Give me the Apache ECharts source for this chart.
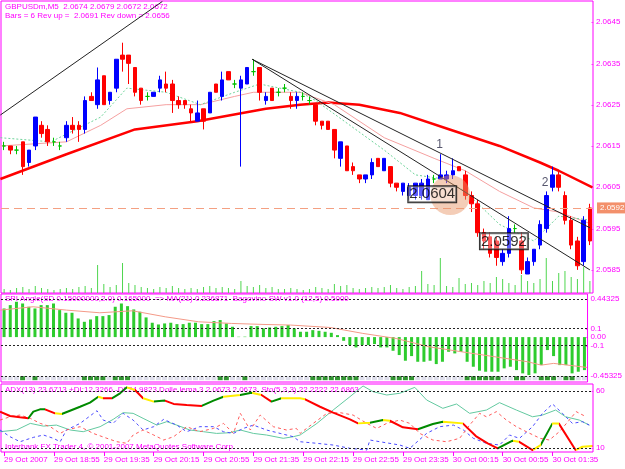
<!DOCTYPE html>
<html>
<head>
<meta charset="utf-8">
<script src="https://cdn.jsdelivr.net/npm/echarts@6.0.0/dist/echarts.min.js"></script>
<style>
  html, body { margin: 0; padding: 0; background: #fff; }
  #my_chart { width: 625px; height: 469px; }
</style>
</head>
<body>
<div id="my_chart"></div>
<script>
// ---- data ----
var tickIdx = [0, 8, 16, 24, 32, 40, 48, 56, 64, 72, 80, 88];
var tickLabels = ['29 Oct 2007', '29 Oct 18:55', '29 Oct 19:35', '29 Oct 20:15', '29 Oct 20:55', '29 Oct 21:35',
  '29 Oct 22:15', '29 Oct 22:55', '29 Oct 23:35', '30 Oct 00:15', '30 Oct 00:55', '30 Oct 01:35'];

// [open, close, low, high]
var candles = [
  [2.0615, 2.0615, 2.0614, 2.0616], [2.0615, 2.0614, 2.0613, 2.0615], [2.0614, 2.0614, 2.0613, 2.0615],
  [2.0616, 2.0610, 2.0608, 2.0616], [2.0611, 2.0614, 2.0610, 2.0614], [2.0615, 2.0622, 2.0614, 2.0622],
  [2.0620, 2.0618, 2.0617, 2.0621], [2.0619, 2.0616, 2.0615, 2.0620], [2.0616, 2.0616, 2.0615, 2.0617],
  [2.0615, 2.0615, 2.0614, 2.0616], [2.0617, 2.0620, 2.0616, 2.0621], [2.0620, 2.0619, 2.0618, 2.0622],
  [2.0620, 2.0619, 2.0616, 2.0621], [2.0619, 2.0626, 2.0618, 2.0627], [2.0627, 2.0626, 2.0626, 2.0628],
  [2.0625, 2.0631, 2.0624, 2.0634], [2.0632, 2.0625, 2.0625, 2.0632], [2.0626, 2.0628, 2.0625, 2.0628],
  [2.0629, 2.0636, 2.0628, 2.0636], [2.0637, 2.0636, 2.0633, 2.0640], [2.0637, 2.0635, 2.0630, 2.0637],
  [2.0634, 2.0628, 2.0627, 2.0634], [2.0629, 2.0626, 2.0625, 2.0629], [2.0627, 2.0627, 2.0626, 2.0628],
  [2.0627, 2.0628, 2.0627, 2.0628], [2.0629, 2.0631, 2.0628, 2.0632], [2.0630, 2.0629, 2.0628, 2.0633],
  [2.0630, 2.0626, 2.0623, 2.0631], [2.0626, 2.0625, 2.0624, 2.0627], [2.0626, 2.0625, 2.0624, 2.0626],
  [2.0624, 2.0623, 2.0621, 2.0625], [2.0621, 2.0623, 2.0621, 2.0626], [2.0624, 2.0621, 2.0619, 2.0624],
  [2.0623, 2.0628, 2.0623, 2.0628], [2.0630, 2.0628, 2.0628, 2.0630], [2.0627, 2.0631, 2.0626, 2.0633],
  [2.0633, 2.0631, 2.0631, 2.0633], [2.0630, 2.0630, 2.0629, 2.0631], [2.0629, 2.0631, 2.0610, 2.0632],
  [2.0630, 2.0634, 2.0630, 2.0634], [2.0633, 2.0633, 2.0632, 2.0636], [2.0634, 2.0628, 2.0626, 2.0634],
  [2.0626, 2.0627, 2.0625, 2.0628], [2.0629, 2.0626, 2.0626, 2.0629], [2.0628, 2.0628, 2.0627, 2.0629],
  [2.0629, 2.0629, 2.0628, 2.0630], [2.0627, 2.0626, 2.0624, 2.0628], [2.0626, 2.0627, 2.0624, 2.0628],
  [2.0627, 2.0627, 2.0626, 2.0628], [2.0626, 2.0626, 2.0625, 2.0627], [2.0625, 2.0621, 2.0620, 2.0625],
  [2.0621, 2.0620, 2.0619, 2.0621], [2.0621, 2.0619, 2.0619, 2.0621], [2.0619, 2.0614, 2.0612, 2.0619],
  [2.0612, 2.0616, 2.0610, 2.0616], [2.0615, 2.0609, 2.0609, 2.0615], [2.0610, 2.0609, 2.0608, 2.0611],
  [2.0608, 2.0607, 2.0606, 2.0608], [2.0607, 2.0608, 2.0606, 2.0608], [2.0608, 2.0611, 2.0607, 2.0612],
  [2.0612, 2.0610, 2.0610, 2.0612], [2.0609, 2.0612, 2.0609, 2.0612], [2.0610, 2.0606, 2.0605, 2.0610],
  [2.0606, 2.0605, 2.0604, 2.0606], [2.0604, 2.0606, 2.0603, 2.0606], [2.0603, 2.0605, 2.0602, 2.0606],
  [2.0603, 2.0606, 2.0602, 2.0606], [2.0603, 2.0606, 2.0602, 2.0607], [2.0602, 2.0607, 2.0602, 2.0608],
  [2.0607, 2.0607, 2.0606, 2.0608], [2.0607, 2.0608, 2.0607, 2.0613], [2.0607, 2.0608, 2.0606, 2.0609],
  [2.0608, 2.0609, 2.0607, 2.0612], [2.0610, 2.0609, 2.0609, 2.0610], [2.0608, 2.0603, 2.0602, 2.0609],
  [2.0603, 2.0601, 2.0599, 2.0604], [2.0601, 2.0594, 2.0593, 2.0602], [2.0594, 2.0592, 2.0590, 2.0595],
  [2.0593, 2.0589, 2.0588, 2.0594], [2.0592, 2.0588, 2.0586, 2.0593], [2.0587, 2.0589, 2.0586, 2.0590],
  [2.0589, 2.0595, 2.0588, 2.0598], [2.0595, 2.0595, 2.0594, 2.0596], [2.0592, 2.0585, 2.0584, 2.0594],
  [2.0584, 2.0587, 2.0584, 2.0588], [2.0587, 2.0590, 2.0586, 2.0590], [2.0591, 2.0596, 2.0590, 2.0597],
  [2.0595, 2.0603, 2.0594, 2.0604], [2.0605, 2.0608, 2.0604, 2.0610], [2.0608, 2.0605, 2.0604, 2.0609],
  [2.0603, 2.0597, 2.0596, 2.0604], [2.0597, 2.0591, 2.0590, 2.0598], [2.0592, 2.0586, 2.0585, 2.0593],
  [2.0587, 2.0597, 2.0586, 2.0598], [2.0600, 2.0592, 2.0591, 2.0601]
];

var volumes = [4, 3, 5, 6, 4, 7, 5, 4, 3, 4, 5, 4, 6, 7, 5, 28, 9, 6, 8, 30,
  10, 8, 6, 5, 4, 6, 5, 7, 5, 4, 5, 4, 6, 7, 5, 6, 5, 4, 12, 7,
  6, 8, 5, 6, 4, 4, 5, 4, 3, 4, 6, 5, 4, 9, 7, 8, 5, 4, 5, 6,
  5, 6, 8, 5, 4, 6, 7, 22, 9, 8, 35, 7, 6, 15, 9, 10, 8, 12, 10, 16,
  14, 10, 8, 18, 12, 10, 14, 35, 12, 20, 22, 16, 14, 26, 12];

// moving averages on the price panel, [bar, price]
var maSlow = [[-0.6, 2.0607], [10, 2.0613], [21, 2.0619], [31, 2.0621], [42, 2.0624], [47.5, 2.0625], [52, 2.06255],
  [57, 2.0625], [63.5, 2.0623], [71.5, 2.0619], [79.5, 2.0615], [86, 2.0611], [89, 2.0609], [94.4, 2.0605]];
var maMid = [[-0.6, 2.0615], [10, 2.0616], [15.5, 2.0620], [19.7, 2.0624], [26, 2.0625], [31.5, 2.0625], [37, 2.0627],
  [40, 2.0628], [47.5, 2.0628], [53, 2.0625], [61, 2.0617], [69, 2.0612], [74, 2.0609], [79.5, 2.0604],
  [85, 2.0600], [89, 2.0599], [94.4, 2.0596]];
var maFast = [[-0.6, 2.0617], [7.5, 2.0616], [15.5, 2.0622], [19.7, 2.0629], [26, 2.0628], [31.5, 2.0625], [37, 2.0628],
  [41, 2.0630], [47.5, 2.0628], [50, 2.0626], [55.5, 2.0620], [61, 2.0614], [66, 2.0608], [70.5, 2.0607],
  [74, 2.0604], [79.5, 2.0596], [85, 2.0592], [89, 2.0598], [94.4, 2.0597]];

var trendA = [[-0.6, 2.06225], [25.4, 2.0650]];
var trendB = [[39.8, 2.0636], [94.0, 2.05952]];
var trendC = [[39.8, 2.0636], [94.0, 2.0585]];
var lastPrice = 2.0592;

var priceTicks = [2.0585, 2.0595, 2.0605, 2.0615, 2.0625, 2.0635, 2.0645];

// oscillator panel
var oscBars = [0.333, 0.372, 0.411, 0.391, 0.353, 0.333, 0.372, 0.372, 0.391, 0.314,
  0.283, 0.283, 0.217, 0.178, 0.205, 0.244, 0.244, 0.256, 0.353, 0.391,
  0.360, 0.322, 0.295, 0.229, 0.167, 0.147, 0.159, 0.167, 0.151, 0.151,
  0.167, 0.167, 0.151, 0.151, 0.186, 0.198, 0.159, 0.120, 0.004, 0.005,
  0.128, 0.128, 0.101, 0.112, 0.120, 0.128, 0.140, 0.101,
  0.062, 0.062, 0.081, 0.073, 0.062, 0.050, 0.023, -0.043, -0.093, -0.120,
  -0.093, -0.093, -0.081, -0.120, -0.120, -0.159, -0.209, -0.275, -0.221, -0.287,
  -0.287, -0.275, -0.314, -0.287, -0.171, -0.190, -0.171, -0.287, -0.345, -0.391,
  -0.403, -0.403, -0.403, -0.364, -0.345, -0.384, -0.422, -0.442, -0.422, -0.326,
  -0.151, -0.221, -0.326, -0.326, -0.422, -0.403, -0.384];
var oscMa = [[-0.6, 0.314], [4.7, 0.353], [10.1, 0.314], [15.5, 0.283], [20.8, 0.306], [26.1, 0.236], [31.5, 0.178],
  [36.8, 0.159], [42.1, 0.147], [46.4, 0.14], [52.8, 0.112], [58.1, 0.043], [63.5, -0.016], [68.8, -0.112],
  [74.1, -0.171], [79.5, -0.229], [84.8, -0.287], [87, -0.326], [89, -0.306], [94.4, -0.353]];
var oscLevels = [0.44325, 0.1, -0.1, -0.45325];
var oscTicks = [0.44325, 0.1, 0, -0.1, -0.45325];
var oscTickLabels = ['0.44325', '0.1', '0.00', '-0.1', '-0.45325'];
var signalBars = [3, 5, 13, 14, 15, 16, 18, 19, 20, 35, 36, 39, 50, 51, 52, 53, 54, 55, 56, 57,
  63, 64, 65, 66, 75, 76, 77, 78, 79, 80, 83, 84, 87, 88, 89, 91, 92];

// ADX panel
var adxPts = [[-0.66, 41.9], [0.95, 38.1], [2.55, 36.9], [3.89, 36.1], [4.69, 41.9], [5.76, 43.9], [6.56, 43.9],
  [8.17, 40.4], [9.24, 39.8], [10.57, 42.7], [12.18, 46.2], [13.78, 49.8], [15.12, 55], [15.9, 53.6],
  [17.3, 53.6], [18.6, 58], [19.7, 63.2], [21.0, 60.9], [22.3, 53.6], [24.0, 50.7], [25.8, 51.6],
  [27.2, 48.7], [29.3, 47.8], [31.7, 46.9], [33.6, 51.6], [35.2, 55], [37.9, 56.5], [39.7, 58.5],
  [41.3, 56.5], [42.9, 50.7], [44.5, 53.6], [47.5, 53.6], [48.3, 52.7], [50.7, 46.2], [52.8, 41],
  [55.5, 35.1], [56.8, 31.6], [58.7, 32.2], [60.8, 34.5], [61.9, 33.9], [64.0, 28.1], [66.4, 26.4],
  [68.8, 31.1], [70.4, 33.1], [73.6, 31.6], [75.7, 20.5], [77.6, 14.1], [79.2, 9.7], [81.6, 16.4],
  [82.6, 15.5], [84.8, 8.2], [86.1, 12.6], [88.0, 31.6], [89.0, 31.6], [91.7, 8.2], [92.8, 11.1], [94.4, 11.7]];
// colour of the segment that starts at each point: r red, g green, y yellow
var adxCol = ['r', 'r', 'r', 'g', 'g', 'g', 'r', 'y', 'g', 'g', 'g', 'g', 'y', 'r', 'g', 'g', 'y', 'r', 'y', 'g', 'r',
  'r', 'r', 'g', 'g', 'y', 'g', 'y', 'r', 'g', 'y', 'y', 'r', 'r', 'r', 'r', 'y', 'g', 'y', 'r', 'r', 'g',
  'g', 'y', 'r', 'r', 'r', 'g', 'y', 'r', 'y', 'g', 'y', 'r', 'y', 'y', 'y'];
var plusDi = [[-0.66, 25.8], [0.95, 19.9], [2.55, 15.5], [4.69, 19.3], [6.3, 21.4], [7.9, 18.5], [9.0, 15.5],
  [10.0, 25.8], [12.2, 31.6], [14.9, 42.7], [15.9, 34.5], [17.5, 31.6], [19.1, 40.4], [20.7, 34.5],
  [22.3, 25.8], [24.0, 28.7], [25.6, 35.1], [27.7, 30.1], [29.3, 24.3], [31.4, 28.7], [33.6, 28.7],
  [35.2, 24.3], [36.8, 22.8], [38.4, 27.2], [40.0, 30.1], [42.1, 25.8], [44.3, 22.8], [46.4, 19.9],
  [47.5, 15.5], [50.2, 14.1], [52.8, 12.6], [55.5, 9.7], [58.2, 8.2], [58.7, 17], [60.3, 15.5],
  [63.5, 12.6], [65.1, 9.7], [67.8, 22.8], [69.9, 28.7], [72.1, 30.1], [73.7, 25.8], [75.3, 18.5],
  [77.4, 14.1], [79.5, 12.6], [81.1, 21.4], [82.7, 18.5], [84.8, 28.7], [86.4, 40.4], [88.0, 48.6],
  [89.6, 40.4], [91.2, 31.6], [92.8, 33.1], [93.9, 30.1]];
var minusDi = [[-0.66, 34.5], [0.95, 37.4], [2.55, 38.9], [4.2, 36], [5.8, 31.6], [7.4, 28.7], [9.0, 22.8],
  [10.0, 25.8], [12.2, 28.7], [14.3, 22.8], [16.5, 18.5], [18.1, 15.5], [19.7, 14.1], [20.7, 21.4],
  [22.3, 25.8], [24.0, 21.4], [25.6, 17], [27.2, 19.9], [29.3, 28.7], [31.4, 24.3], [33.6, 27.2],
  [35.2, 31.6], [36.8, 22.8], [37.9, 40.4], [39.5, 25.8], [41.1, 38.9], [43.2, 28.7], [45.3, 25.8],
  [46.9, 27.2], [47.5, 22.8], [49.6, 31.6], [51.8, 40.4], [53.9, 41], [56.0, 38.9], [58.2, 31.6],
  [59.8, 27.2], [61.4, 31.6], [63.5, 34.5], [65.1, 31.6], [66.7, 22.8], [68.8, 17], [71.0, 15.5],
  [73.1, 18.5], [74.7, 30.1], [76.3, 40.4], [77.4, 37.4], [79.0, 41.9], [80.6, 34.5], [82.2, 28.7],
  [83.8, 24.3], [86.0, 18.5], [87.5, 17], [89.1, 24.3], [90.7, 34.5], [91.8, 41.9], [93.4, 37.4]];
var stoch = [[-0.66, 24.3], [2.0, 25.8], [4.2, 31.6], [6.3, 29.2], [8.4, 30.1], [10.6, 25.8], [12.7, 24.3],
  [15.4, 28.7], [17.5, 35.1], [19.1, 41], [20.7, 40.4], [22.3, 36], [24.5, 30.1], [26.1, 33.1],
  [27.7, 30.1], [29.8, 25.8], [32.0, 24.3], [34.1, 22.8], [36.2, 23.4], [37.9, 25.8], [40.0, 22.8],
  [42.1, 21.4], [44.8, 18.5], [46.4, 19.9], [47.5, 21.4], [50.2, 31.6], [52.8, 43.3], [55.5, 55],
  [57.6, 64.4], [59.2, 59.4], [61.4, 56.5], [63.5, 58], [65.9, 63.2], [67.8, 52.1], [70.4, 44.8],
  [72.6, 48.6], [74.7, 40.4], [77.4, 43.3], [79.5, 49.8], [82.2, 43.3], [84.8, 37.4], [86.4, 38.9],
  [88.5, 43.3], [90.1, 37.4], [92.3, 34.5], [93.9, 30.1]];
var adxLevels = [60, 10];

// annotations on the price panel
var boxNotes = [{ name: '2.0604', value: [68.7, 2.06033] }, { name: '2.0592', value: [80.2, 2.05919] }];
var waveNotes = [{ name: '1', value: [69.9, 2.06152] }, { name: '2', value: [86.8, 2.0606] }];
var circleAt = [[71.6, 2.06031]];

// ---- chart ----
var MAG = '#ff00ff';
var FONT = 'Liberation Sans';

var times = [];
for (var k = 0; k < candles.length; k++) {
  var m = 18 * 60 + 15 + 5 * k;
  var hh = Math.floor(m / 60) % 24, mm = m % 60;
  times.push((hh < 10 ? '0' : '') + hh + ':' + (mm < 10 ? '0' : '') + mm);
}

function levelLines(levels) {
  return {
    silent: true, symbol: 'none', label: { show: false },
    lineStyle: { color: '#222', type: [2, 2], width: 1 },
    data: levels.map(function (v) { return { yAxis: v }; })
  };
}

function catAxis(grid, showLabels) {
  return {
    type: 'category', gridIndex: grid, data: times, boundaryGap: true, show: showLabels,
    axisLine: { show: false }, splitLine: { show: false },
    axisTick: {
      show: showLabels, alignWithLabel: true, length: 4, lineStyle: { color: MAG },
      interval: function (i) { return tickIdx.indexOf(i) >= 0; }
    },
    axisLabel: {
      show: showLabels, color: MAG, fontSize: 8, fontFamily: FONT, align: 'left', margin: 4,
      interval: function (i) { return tickIdx.indexOf(i) >= 0; },
      formatter: function (v, i) { return tickLabels[tickIdx.indexOf(i)] || ''; }
    }
  };
}
function valAxisX(grid) {
  return { type: 'value', gridIndex: grid, min: -0.5, max: candles.length - 0.5, show: false };
}
function rightAxis(grid, min, max, ticks, fmt) {
  return {
    type: 'value', gridIndex: grid, position: 'right', min: min, max: max,
    splitLine: { show: false }, axisLine: { show: false }, axisTick: { show: false },
    axisLabel: {
      customValues: ticks, formatter: function (v) { return '- ' + fmt(v); },
      color: MAG, fontSize: 8, fontFamily: FONT, margin: -2
    }
  };
}
function thinLine(data, x, y, color, width, type, z) {
  return {
    type: 'line', xAxisIndex: x, yAxisIndex: y, data: data, showSymbol: false, symbol: 'none',
    lineStyle: { color: color, width: width, type: type || 'solid' }, z: z || 2, silent: true
  };
}

var sqData = candles.map(function (c, i) {
  var on = signalBars.indexOf(i) >= 0;
  return { value: [i, -0.478], itemStyle: { color: on ? '#007a00' : '#d6d6e6' } };
});

var adxLine = thinLine(adxPts, 5, 3, null, 2, 'solid', 4);
delete adxLine.lineStyle.color;
adxLine.markLine = levelLines(adxLevels);

var series = [
  { type: 'bar', xAxisIndex: 0, yAxisIndex: 1, data: volumes, barWidth: 1, itemStyle: { color: '#4fd64f' }, z: 1, silent: true },
  thinLine(maSlow, 1, 0, '#ff0000', 2.5, 'solid', 2),
  thinLine(maMid, 1, 0, '#f5a0a0', 1, 'solid', 2),
  thinLine(maFast, 1, 0, '#6fd39a', 1, [2, 2], 2),
  {
    type: 'candlestick', xAxisIndex: 0, yAxisIndex: 0, data: candles, barWidth: 4, z: 3,
    itemStyle: {
      color: '#0000ff', color0: '#ff0000', borderColor: '#0000ff', borderColor0: '#ff0000',
      borderColorDoji: '#00c000', borderWidth: 1
    },
    markLine: {
      silent: true, symbol: 'none',
      lineStyle: { color: '#f4a082', type: [8, 5], width: 1 },
      label: {
        show: true, position: 'end', distance: 4, formatter: lastPrice.toFixed(4),
        color: '#fff', backgroundColor: '#f3906b', padding: [2, 3, 1, 3], fontSize: 8, fontFamily: FONT
      },
      data: [{ yAxis: lastPrice }]
    }
  },
  thinLine(trendA, 1, 0, '#222', 1, 'solid', 4),
  thinLine(trendB, 1, 0, '#222', 1, 'solid', 4),
  thinLine(trendC, 1, 0, '#222', 1, 'solid', 4),
  {
    type: 'scatter', xAxisIndex: 1, yAxisIndex: 0, data: circleAt, symbolSize: 40, z: 5, silent: true,
    itemStyle: { color: 'rgba(232,150,105,0.6)' }
  },
  {
    type: 'scatter', xAxisIndex: 1, yAxisIndex: 0, data: boxNotes, symbolSize: 1, z: 6, silent: true,
    itemStyle: { color: 'rgba(0,0,0,0)' },
    label: {
      show: true, position: 'inside', formatter: '{b}', fontSize: 15, fontFamily: FONT, color: '#000',
      backgroundColor: 'rgba(255,255,255,0.45)', borderColor: '#000', borderWidth: 1, padding: [1, 1, 0, 1]
    }
  },
  {
    type: 'scatter', xAxisIndex: 1, yAxisIndex: 0, data: waveNotes, symbolSize: 1, z: 6, silent: true,
    itemStyle: { color: 'rgba(0,0,0,0)' },
    label: { show: true, position: 'inside', formatter: '{b}', fontSize: 12, fontFamily: FONT, color: '#2c2c48' }
  },
  {
    type: 'bar', xAxisIndex: 2, yAxisIndex: 2, data: oscBars, barWidth: 3, z: 2, silent: true,
    itemStyle: { color: '#2ecc2e' },
    markLine: levelLines(oscLevels)
  },
  thinLine(oscMa, 3, 2, '#f49a88', 1, 'solid', 3),
  {
    type: 'scatter', xAxisIndex: 2, yAxisIndex: 2, data: sqData, symbol: 'rect', symbolSize: [5, 4], z: 3, silent: true
  },
  thinLine(stoch, 5, 3, '#63c9a0', 1, 'solid', 2),
  thinLine(plusDi, 5, 3, '#4a4aff', 1, [3, 3], 2),
  thinLine(minusDi, 5, 3, '#ff5a5a', 1, [3, 3], 2),
  adxLine
];
var adxSeries = series.length - 1;

var adxColors = { r: '#ff0000', g: '#008a00', y: '#ffee00' };
var adxPieces = [];
for (var j = 0; j < adxPts.length - 1; j++) {
  adxPieces.push({ gte: adxPts[j][0], lt: adxPts[j + 1][0], color: adxColors[adxCol[j]] });
}

var option = {
  animation: false,
  backgroundColor: '#ffffff',
  textStyle: { fontFamily: FONT },
  grid: [
    { left: 1, right: 32, top: 1, height: 292, show: true, borderColor: MAG, borderWidth: 1, backgroundColor: 'transparent' },
    { left: 1, right: 32, top: 294, height: 88, show: true, borderColor: MAG, borderWidth: 1 },
    { left: 1, right: 32, top: 384, height: 68, show: true, borderColor: MAG, borderWidth: 1 }
  ],
  xAxis: [catAxis(0, false), valAxisX(0), catAxis(1, false), valAxisX(1), catAxis(2, true), valAxisX(2)],
  yAxis: [
    rightAxis(0, 2.05794, 2.06501, priceTicks, function (v) { return v.toFixed(4); }),
    { type: 'value', gridIndex: 0, min: 0, max: 292, show: false },
    rightAxis(1, -0.5225, 0.5014, oscTicks, function (v) {
      var i = oscTicks.indexOf(v); return i >= 0 ? oscTickLabels[i] : '';
    }),
    rightAxis(2, 6.49, 66.14, adxLevels, function (v) { return String(v); })
  ],
  visualMap: [{
    type: 'piecewise', show: false, seriesIndex: adxSeries, dimension: 0,
    pieces: adxPieces, outOfRange: { color: '#ff0000' }
  }],
  graphic: [
    { type: 'text', left: 5, top: 3, style: { text: 'GBPUSDm,M5  2.0674 2.0679 2.0672 2.0672', fill: MAG, font: '8px ' + FONT } },
    { type: 'text', left: 5, top: 12, style: { text: 'Bars = 6 Rev up =  2.0691 Rev down = 2.0656', fill: MAG, font: '8px ' + FONT } },
    { type: 'text', left: 5, top: 295, style: { text: 'SPI Angle(SD 0.15000000,2.0) 0.165000  => MA(21) 0.236871  Bagovino-SW v1.0 (12,5) 0.5000', fill: MAG, font: '8px ' + FONT } },
    { type: 'text', left: 5, top: 386, style: { text: 'ADX(13) 23.6713 +DI:12.3266 -DI:24.9823 Dolle lema 3 2.0673 2.0673  Sto(5,3,3) 22.2222 22.6863', fill: MAG, font: '8px ' + FONT } },
    { type: 'text', left: 5, top: 443, style: { text: 'Interbank FX Trader 4, \u00a9 2001-2007 MetaQuotes Software Corp.', fill: MAG, font: '8px ' + FONT } }
  ],
  series: series
};

var my_chart = echarts.init(document.getElementById('my_chart'));
my_chart.setOption(option);
</script>
</body>
</html>
